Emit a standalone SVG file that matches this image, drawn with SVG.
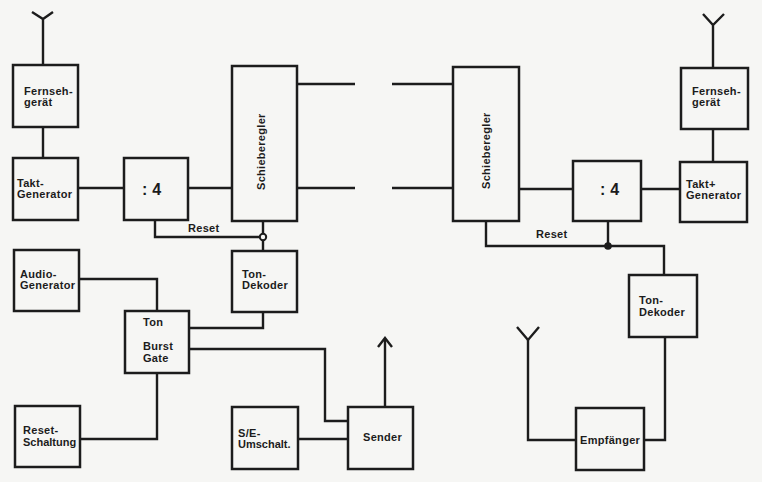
<svg xmlns="http://www.w3.org/2000/svg" width="762" height="482" viewBox="0 0 762 482">
<style>
.b{fill:none;stroke:#1c1c1c;stroke-width:2.5}
.c{fill:none;stroke:#1c1c1c;stroke-width:2.4;stroke-linejoin:miter}
text{font-family:"Liberation Sans",Arial,sans-serif;font-weight:bold;font-size:11px;fill:#1c1c1c;letter-spacing:0.3px}
.big{font-size:16px}
.tight{letter-spacing:0}
</style>
<rect width="762" height="482" fill="#f6f6f4"/>
<g id="antenna-left" class="c"><path d="M32 12 L43 19 L53 12 M43 19 V65"/></g>
<g id="fernseh-left"><rect class="b" x="13" y="65" width="65" height="62"/><text x="24" y="95">Fernseh-</text><text x="24" y="106">gerät</text></g>
<g id="takt-left"><rect class="b" x="13" y="158" width="65" height="62"/><text x="17" y="187">Takt-</text><text x="17" y="198">Generator</text></g>
<g id="div4-left"><rect class="b" x="124" y="158" width="64" height="62"/><text class="big" x="142" y="195">: 4</text></g>
<g id="schiebe-left"><rect class="b" x="232" y="66" width="65" height="155"/><text transform="translate(265,190) rotate(-90)">Schieberegler</text></g>
<g id="tondek-left"><rect class="b" x="232" y="251" width="65" height="61"/><text x="242" y="278">Ton-</text><text x="242" y="289">Dekoder</text></g>
<g id="audio"><rect class="b" x="14" y="250" width="65" height="61"/><text x="20" y="278">Audio-</text><text x="20" y="289">Generator</text></g>
<g id="burst"><rect class="b" x="125" y="311" width="64" height="62"/><text x="143" y="326">Ton</text><text x="143" y="350">Burst</text><text x="143" y="362">Gate</text></g>
<g id="resetsch"><rect class="b" x="15" y="406" width="65" height="61"/><text x="23" y="434">Reset-</text><text class="tight" x="23" y="446">Schaltung</text></g>
<g id="seum"><rect class="b" x="232" y="407" width="66" height="62"/><text x="238" y="437">S/E-</text><text class="tight" x="238" y="448">Umschalt.</text></g>
<g id="sender"><rect class="b" x="348" y="407" width="65" height="62"/><text x="363" y="441">Sender</text></g>
<g id="antenna-right-top" class="c"><path d="M703 14 L713 25 L724 14 M713 25 V68"/></g>
<g id="fernseh-right"><rect class="b" x="681" y="68" width="67" height="61"/><text x="692" y="95">Fernseh-</text><text x="692" y="106">gerät</text></g>
<g id="takt-right"><rect class="b" x="680" y="162" width="67" height="60"/><text x="686" y="188">Takt+</text><text x="686" y="199">Generator</text></g>
<g id="div4-right"><rect class="b" x="573" y="161" width="68" height="60"/><text class="big" x="600" y="195">: 4</text></g>
<g id="schiebe-right"><rect class="b" x="453" y="67" width="66" height="154"/><text transform="translate(490,189) rotate(-90)">Schieberegler</text></g>
<g id="tondek-right"><rect class="b" x="629" y="275" width="68" height="62"/><text x="639" y="304">Ton-</text><text x="639" y="316">Dekoder</text></g>
<g id="empf"><rect class="b" x="576" y="408" width="68" height="62"/><text x="580" y="444">Empfänger</text></g>
<g id="antenna-right-bottom" class="c"><path d="M517 327 L528 340 L539 327"/></g>
<g id="connectors" class="c">
<path d="M43 127 V158"/>
<path d="M78 188 H124"/>
<path d="M188 188 H232"/>
<path d="M297 84 H355 M297 188 H355"/>
<path d="M392 84 H453 M392 188 H453"/>
<path d="M155 220 V237 H260"/>
<path d="M263 221 V234 M263 240 V251"/>
<path d="M263 312 V328 H189"/>
<path d="M79 279 H157 V311"/>
<path d="M189 349 H325 V421 H348"/>
<path d="M157 373 V439 H80"/>
<path d="M298 439 H348"/>
<path d="M385 407 V339"/>
<path d="M378 347 L385 338 L392 347"/>
<path d="M519 189 H573"/>
<path d="M641 189 H680"/>
<path d="M713 129 V162"/>
<path d="M486 221 V246 H664 V275"/>
<path d="M608 221 V246"/>
<path d="M665 337 V440 H644"/>
<path d="M528 340 V440 H576"/>
<text x="188" y="232" style="stroke:none;fill:#1c1c1c">Reset</text>
<text x="536" y="238" style="stroke:none;fill:#1c1c1c">Reset</text>
</g>
<circle cx="263" cy="237" r="3.2" fill="none" stroke="#1c1c1c" stroke-width="2"/>
<circle cx="608" cy="246" r="3.8" fill="#1c1c1c"/>
</svg>
